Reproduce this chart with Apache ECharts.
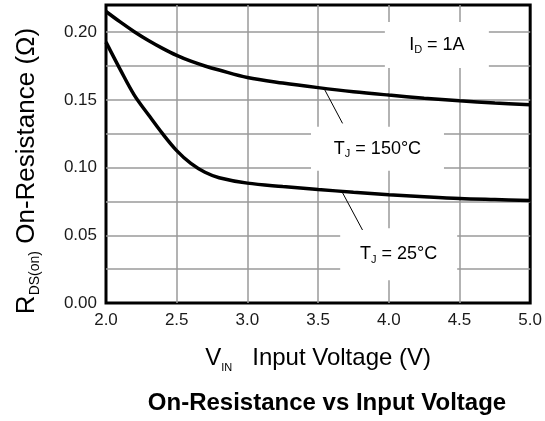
<!DOCTYPE html>
<html>
<head>
<meta charset="utf-8">
<script src="https://cdn.jsdelivr.net/npm/echarts@6/dist/echarts.min.js"></script>
<style>
  html, body { margin: 0; padding: 0; background: #fff; }
  #main { width: 545px; height: 421px; }
</style>
</head>
<body>
<div id="main"></div>
<script>
// 输入电压 VIN (V)
var vin = [2.0, 2.1, 2.2, 2.3, 2.4, 2.5, 2.6, 2.7, 2.8, 3.0, 3.25, 3.5, 3.75, 4.0, 4.25, 4.5, 4.75, 5.0];
// 导通电阻 RDS(on) (Ω)，TJ = 150°C
var rds150 = [0.2152, 0.2075, 0.2003, 0.1938, 0.1880, 0.1828, 0.1785, 0.1750, 0.1720, 0.1665, 0.1624, 0.1590, 0.1560, 0.1535, 0.1512, 0.1493, 0.1477, 0.1463];
// 导通电阻 RDS(on) (Ω)，TJ = 25°C
var rds25 = [0.1926, 0.1725, 0.1535, 0.1390, 0.1250, 0.1125, 0.1030, 0.0965, 0.0925, 0.0885, 0.0860, 0.0838, 0.0818, 0.0800, 0.0785, 0.0772, 0.0764, 0.0757];

// 坐标轴刻度
var xTicks = [2.0, 2.5, 3.0, 3.5, 4.0, 4.5, 5.0];
var yTicks = [0.00, 0.05, 0.10, 0.15, 0.20];

// 标注文字 (数据坐标) 与引线
var noteText = ['{m|I}{s|D}{m| = 1A}', '{m|T}{s|J}{m| = 150°C}', '{m|T}{s|J}{m| = 25°C}'];
var noteAt = [[4.34, 0.1905], [3.92, 0.1138], [4.07, 0.0360]];
var noteBox = [[104, 46], [133, 44], [117, 52]];
var lead150 = [[3.545, 0.1578], [3.673, 0.1326]];
var lead25 = [[3.673, 0.0814], [3.814, 0.0539]];

var FONT = 'Liberation Sans';

function pairs(xs, ys) {
  return xs.map(function (x, i) { return [x, ys[i]]; });
}

function leader(seg) {
  return {
    silent: true,
    symbol: 'none',
    label: { show: false },
    lineStyle: { color: '#000', width: 1, type: 'solid' },
    data: [[{ coord: seg[0] }, { coord: seg[1] }]]
  };
}

var myChart = echarts.init(document.getElementById('main'), null, { renderer: 'canvas' });

var option = {
  animation: false,
  backgroundColor: '#fff',
  grid: {
    left: 106, right: 14, top: 5, bottom: 118,
    show: true,
    borderColor: '#000',
    borderWidth: 3
  },
  xAxis: {
    type: 'value',
    min: xTicks[0],
    max: xTicks[xTicks.length - 1],
    interval: 0.5,
    name: '{m|V}{s|IN}{m|   Input Voltage (V)}',
    nameLocation: 'middle',
    nameGap: 40,
    nameTextStyle: {
      rich: {
        m: { fontFamily: FONT, fontSize: 24, color: '#000', lineHeight: 30 },
        s: { fontFamily: FONT, fontSize: 11, color: '#000', lineHeight: 11, verticalAlign: 'bottom' }
      }
    },
    axisLine: { show: false },
    axisTick: { show: false },
    axisLabel: {
      margin: 9,
      fontFamily: FONT,
      fontSize: 17,
      color: '#1a1a1a',
      formatter: function (v) { return v.toFixed(1); }
    },
    splitLine: {
      show: true,
      showMinLine: false,
      showMaxLine: false,
      lineStyle: { color: '#9a9a9a', width: 1.5 }
    }
  },
  yAxis: {
    type: 'value',
    min: 0,
    max: 0.22,
    interval: 0.025,
    name: '{m|R}{s|DS(on)}{m| On-Resistance (Ω)}',
    nameLocation: 'middle',
    nameGap: 64,
    nameRotate: 90,
    nameTextStyle: {
      padding: [0, 34, 0, 0],
      rich: {
        m: { fontFamily: FONT, fontSize: 26, color: '#000', lineHeight: 30 },
        s: { fontFamily: FONT, fontSize: 14, color: '#000', lineHeight: 14, verticalAlign: 'bottom' }
      }
    },
    axisLine: { show: false },
    axisTick: { show: false },
    axisLabel: {
      margin: 9,
      fontFamily: FONT,
      fontSize: 17,
      color: '#1a1a1a',
      formatter: function (v) {
        for (var i = 0; i < yTicks.length; i++) {
          if (Math.abs(v - yTicks[i]) < 1e-6) return yTicks[i].toFixed(2);
        }
        return '';
      }
    },
    splitLine: {
      show: true,
      showMinLine: false,
      showMaxLine: false,
      lineStyle: { color: '#9a9a9a', width: 1.5 }
    }
  },
  series: [
    {
      name: 'TJ = 150°C',
      type: 'line',
      data: pairs(vin, rds150),
      smooth: 0.35,
      symbol: 'none',
      lineStyle: { color: '#000', width: 3.5 },
      markLine: leader(lead150)
    },
    {
      name: 'TJ = 25°C',
      type: 'line',
      data: pairs(vin, rds25),
      smooth: 0.35,
      symbol: 'none',
      lineStyle: { color: '#000', width: 3.5 },
      markLine: leader(lead25)
    }
  ]
};

myChart.setOption(option);

// 标注：白底框 + 文字，位置通过坐标系换算
var graphics = [];
noteAt.forEach(function (at, i) {
  var p = myChart.convertToPixel({ gridIndex: 0 }, at);
  var w = noteBox[i][0], h = noteBox[i][1];
  graphics.push({
    type: 'rect',
    z: 1,
    shape: { x: p[0] - w / 2, y: p[1] - h / 2, width: w, height: h },
    style: { fill: '#fff' },
    silent: true
  });
  graphics.push({
    type: 'text',
    z: 3,
    x: p[0],
    y: p[1],
    style: {
      text: noteText[i],
      align: 'center',
      verticalAlign: 'middle',
      rich: {
        m: { fontFamily: FONT, fontSize: 18, fill: '#000', lineHeight: 22 },
        s: { fontFamily: FONT, fontSize: 11, fill: '#000', lineHeight: 11, verticalAlign: 'bottom' }
      }
    },
    silent: true
  });
});

// 图题
graphics.push({
  type: 'text',
  z: 3,
  x: 327,
  y: 403,
  style: {
    text: 'On-Resistance vs Input Voltage',
    align: 'center',
    verticalAlign: 'middle',
    fontFamily: FONT,
    fontSize: 24,
    fontWeight: 'bold',
    fill: '#000'
  },
  silent: true
});

myChart.setOption({ graphic: graphics });
</script>
</body>
</html>
